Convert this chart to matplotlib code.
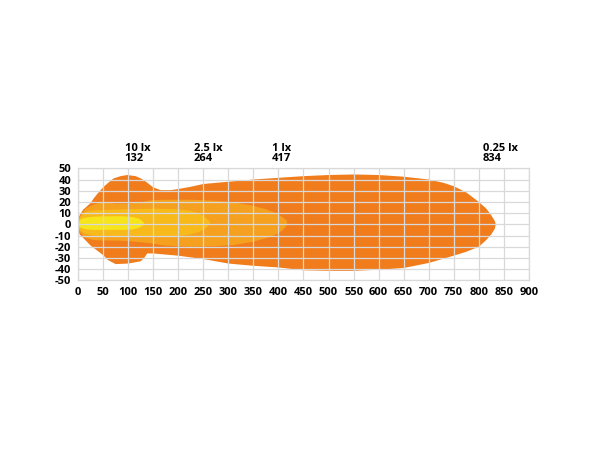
import matplotlib.pyplot as plt

###### DATA ######

# isolux levels, outermost first
levels = ['0.25 lx', '1 lx', '2.5 lx', '10 lx']
distances = [834, 417, 264, 132]
colors = ['#F07C1C', '#F5A01E', '#F8BA1A', '#F6E41C']

# 0.25 lx contour
x_025_up = [0, 3, 10, 25, 31, 40, 51, 60, 71, 85, 98, 115, 125, 131, 140, 150, 165, 185, 200,
            225, 250, 300, 350, 400, 450, 500, 550, 600, 650, 700, 730, 750, 775, 800, 815, 825, 832, 834]
y_025_up = [4, 8, 13, 19, 23, 28, 33.5, 37, 41, 43, 44, 43, 41, 39.5, 36.5, 33, 30.5, 30.5, 31.5,
            33.5, 36, 38, 40, 41.5, 43, 44, 44.5, 44, 42.5, 40, 37, 34, 28.5, 20, 14, 8, 3, 0]
x_025_lo = [834, 832, 825, 815, 800, 775, 750, 700, 650, 600, 550, 500, 450, 400, 350, 300, 250,
            200, 150, 138, 132, 125, 100, 75, 60, 50, 40, 25, 10, 3, 0]
y_025_lo = [0, -4, -9, -14, -20, -24.5, -28, -34.5, -39, -40.5, -41.5, -41.5, -41, -38.5, -37, -35, -31,
            -28, -26, -26, -30, -33, -35, -35.5, -32, -27.5, -24, -19, -12, -9, -4]

# 1 lx contour
x_1_up = [0, 5, 15, 30, 50, 75, 100, 125, 145, 175, 225, 275, 310, 345, 375, 395, 408, 415, 418]
y_1_up = [2, 8, 14, 17.5, 20, 18.5, 18.5, 19.5, 21.5, 22, 22, 21, 19.5, 17, 13.5, 10, 6.5, 4, 1.5]
x_1_lo = [418, 415, 408, 395, 375, 345, 310, 275, 225, 175, 145, 125, 100, 75, 50, 30, 15, 5, 0]
y_1_lo = [1.5, -2, -5.5, -9, -12.5, -16, -18.5, -19.5, -20, -19, -17, -16, -15, -14.5, -14.5, -14,
          -12, -8, -2]

# 2.5 lx contour
x_25_up = [0, 5, 15, 30, 60, 100, 150, 200, 225, 240, 252, 260, 264]
y_25_up = [2, 7, 11, 12.5, 13, 13.5, 14, 13.5, 12, 10, 7, 4, 1.5]
x_25_lo = [264, 260, 252, 240, 225, 200, 150, 100, 60, 30, 15, 5, 0]
y_25_lo = [1.5, -1.5, -4.5, -7, -9, -10.5, -11, -10.5, -10.5, -10, -8.5, -6, -2]

# 10 lx contour
x_10_up = [1, 5, 15, 30, 60, 90, 110, 122, 128, 132]
y_10_up = [1, 4.5, 6, 6.8, 7.2, 7.2, 6.5, 5, 3, 1]
x_10_lo = [132, 128, 122, 110, 90, 60, 30, 15, 5, 1]
y_10_lo = [1, -1.5, -3, -4.5, -5, -5, -5, -4.5, -3, -1]

x_ticks = list(range(0, 901, 50))
y_ticks = list(range(-50, 51, 10))

# left edge of each distance label
label_x = [808, 387, 231, 93]

###### PLOT ######

plt.rcParams['font.family'] = ['Open Sans', 'DejaVu Sans']
plt.rcParams['axes.unicode_minus'] = False

fig = plt.figure(figsize=(6.1, 4.5), dpi=100)
ax = fig.add_axes([0.128, 0.377, 0.739, 0.249])

contours = [
    (x_025_up + x_025_lo, y_025_up + y_025_lo),
    (x_1_up + x_1_lo, y_1_up + y_1_lo),
    (x_25_up + x_25_lo, y_25_up + y_25_lo),
    (x_10_up + x_10_lo, y_10_up + y_10_lo),
]
for (xs, ys), c in zip(contours, colors):
    ax.fill(xs, ys, color=c, lw=0, zorder=1)

ax.set_xlim(0, 900)
ax.set_ylim(-50, 50)
ax.set_xticks(x_ticks)
ax.set_yticks(y_ticks)
ax.grid(True, color='#d9d9d9', lw=0.9, zorder=2)
ax.set_axisbelow(False)
ax.tick_params(length=0, labelsize=8, pad=5)
for lab in ax.get_xticklabels() + ax.get_yticklabels():
    lab.set_fontweight('bold')
for sp in ax.spines.values():
    sp.set_color('#d9d9d9')
    sp.set_linewidth(0.9)

for lvl, d, lx in zip(levels, distances, label_x):
    ax.annotate(f'{lvl}\n{d}', xy=(lx, 50), xytext=(0, 3), textcoords='offset points',
                ha='left', va='bottom', fontsize=8, fontweight='bold', linespacing=0.85)

fig.savefig('out.png', dpi=100)
